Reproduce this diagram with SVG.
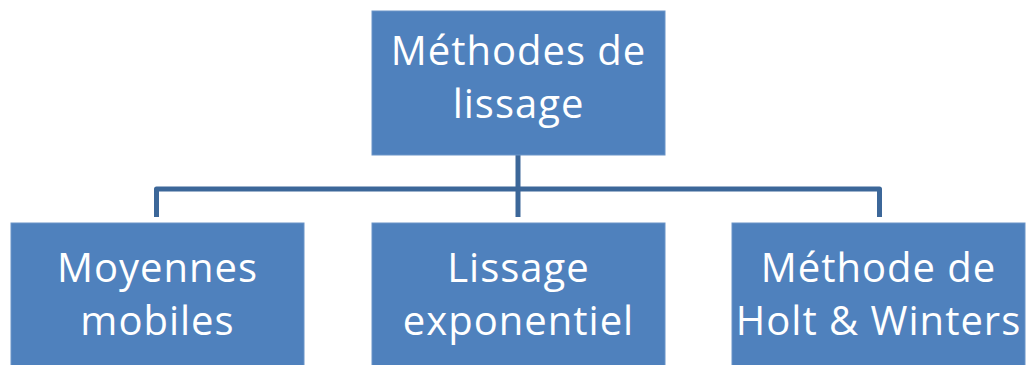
<svg xmlns="http://www.w3.org/2000/svg" width="1027" height="365" viewBox="0 0 1027 365">
<style>
.box{fill:#4F81BD;stroke:#6A94C8;stroke-width:1}
.t{fill:#FFFFFF;font-family:"Open Sans","Noto Sans",sans-serif;font-size:40px;letter-spacing:1px;text-anchor:middle}
.c{fill:none;stroke:#3C6799;stroke-width:5;stroke-linejoin:round}
</style>
<rect width="1027" height="365" fill="#FFFFFF"/>
<g id="connectors">
<path class="c" d="M518 155 V189"/>
<path class="c" d="M156.5 217 V189 H879.5 V217"/>
<path class="c" d="M518 189 V217"/>
</g>
<g id="root">
<rect class="box" x="372" y="11" width="293" height="144"/>
<text class="t"><tspan x="518.5" y="65">Méthodes de</tspan><tspan x="518.5" y="118">lissage</tspan></text>
</g>
<g id="moyennes">
<rect class="box" x="11" y="223" width="293" height="150"/>
<text class="t"><tspan x="157.5" y="282">Moyennes</tspan><tspan x="157.5" y="335">mobiles</tspan></text>
</g>
<g id="lissage">
<rect class="box" x="372" y="223" width="293" height="150"/>
<text class="t"><tspan x="518.5" y="282">Lissage</tspan><tspan x="518.5" y="335">exponentiel</tspan></text>
</g>
<g id="holt">
<rect class="box" x="732" y="223" width="293" height="150"/>
<text class="t"><tspan x="878.5" y="282">Méthode de</tspan><tspan x="878.5" y="335">Holt &amp; Winters</tspan></text>
</g>
</svg>
